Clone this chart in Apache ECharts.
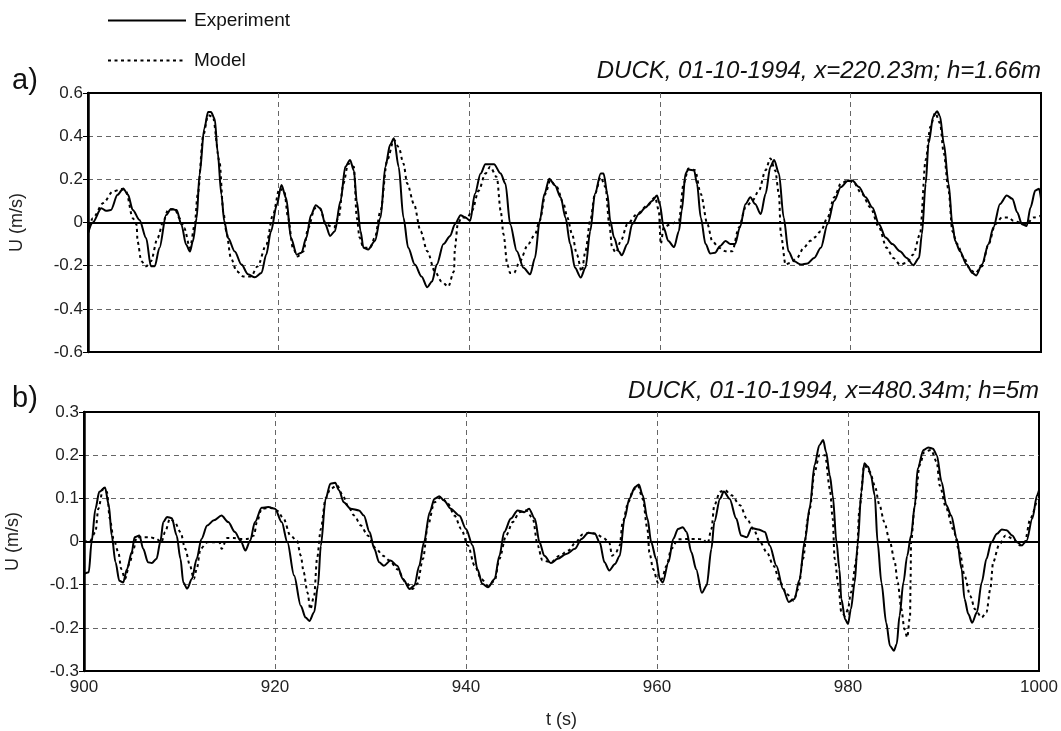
<!DOCTYPE html>
<html><head><meta charset="utf-8">
<script src="https://cdn.jsdelivr.net/npm/echarts@6/dist/echarts.min.js"></script>
<style>html,body{margin:0;padding:0;background:#fff}#c{width:1061px;height:731px}</style>
</head><body><div id="c"></div>
<script>
// ---------- DATA ----------
const seriesNames = ['Experiment', 'Model'];
const titleA = 'DUCK, 01-10-1994, x=220.23m; h=1.66m';
const titleB = 'DUCK, 01-10-1994, x=480.34m; h=5m';

// Panel a) Experiment
const aExpT = [900,900.5,901.4,901.9,902.4,903.1,903.7,904.2,904.7,905.4,906.1,906.6,907.0,907.5,908.2,908.7,909.3,909.8,910.3,910.7,911.0,911.4,911.7,912.2,912.6,912.9,913.3,913.6,914.0,914.3,914.7,915.4,916.1,916.8,917.5,918.2,918.7,919.2,919.8,920.3,920.8,921.3,921.9,922.4,922.9,923.4,923.9,924.4,924.9,925.4,925.9,926.5,927.0,927.5,927.9,928.2,928.6,928.9,929.4,930.1,930.7,931.2,931.7,932.1,932.6,933.1,933.6,934.3,935.0,935.6,936.1,936.6,937.3,938.0,938.5,939.1,939.6,940.1,940.6,941.2,941.7,942.6,943.3,943.8,944.3,945.0,945.7,946.4,946.9,947.4,947.9,948.4,949.0,949.6,950.1,950.6,951.1,951.7,952.2,952.7,953.2,953.8,954.1,954.5,954.8,955.2,955.7,956.0,956.6,957.1,957.8,958.5,959.2,959.7,960.0,960.4,960.9,961.5,962.0,962.3,962.7,963.0,963.6,963.9,964.3,964.8,965.3,965.8,966.3,966.9,967.4,967.9,968.4,969.0,969.5,970.0,970.6,971.1,971.6,972.0,972.5,973.0,973.5,974.1,974.8,975.5,976.2,976.9,977.6,978.3,979.0,979.7,980.2,980.9,981.6,982.3,983.0,983.7,984.4,985.2,985.9,986.6,987.2,987.5,987.9,988.2,988.7,989.1,989.4,989.8,990.3,990.7,991.0,991.5,992.2,992.8,993.2,993.8,994.5,995.0,995.7,996.4,997.0,997.5,998.0,998.5,998.9,999.4,999.8,1000];
const aExpU = [-0.05,0.0,0.066,0.054,0.058,0.128,0.158,0.128,0.058,0.012,-0.072,-0.203,-0.203,-0.118,0.035,0.063,0.058,-0.01,-0.103,-0.134,-0.088,0.02,0.22,0.435,0.512,0.512,0.48,0.328,0.128,0.005,-0.072,-0.134,-0.195,-0.24,-0.254,-0.234,-0.149,-0.042,0.08,0.174,0.112,-0.072,-0.149,-0.14,-0.072,0.035,0.08,0.065,-0.008,-0.062,-0.04,0.1,0.258,0.29,0.24,0.1,-0.04,-0.117,-0.125,-0.086,0.023,0.258,0.36,0.39,0.258,0.023,-0.117,-0.195,-0.25,-0.3,-0.273,-0.195,-0.1,-0.062,-0.008,0.034,0.023,0.008,0.133,0.227,0.27,0.27,0.227,0.18,-0.008,-0.133,-0.21,-0.24,-0.164,0.008,0.133,0.203,0.172,0.117,0.023,-0.1,-0.21,-0.255,-0.21,-0.04,0.133,0.227,0.227,0.133,0.008,-0.07,-0.133,-0.152,-0.1,-0.008,0.039,0.07,0.1,0.125,0.086,-0.023,-0.086,-0.114,-0.04,0.055,0.227,0.245,0.242,0.18,0.023,-0.1,-0.144,-0.14,-0.11,-0.086,-0.1,-0.1,-0.023,0.086,0.117,0.086,0.039,0.133,0.258,0.29,0.227,0.023,-0.133,-0.18,-0.195,-0.19,-0.164,-0.117,-0.008,0.1,0.164,0.192,0.195,0.164,0.117,0.07,-0.008,-0.07,-0.1,-0.133,-0.164,-0.198,-0.164,-0.055,0.18,0.367,0.492,0.516,0.492,0.367,0.18,-0.008,-0.086,-0.133,-0.195,-0.234,-0.245,-0.195,-0.1,-0.023,0.086,0.125,0.11,0.047,-0.008,-0.016,0.07,0.148,0.156,0.11];

// Panel a) Model
const aModT = [900,900.5,901.6,902.6,903.5,904.0,904.7,905.1,905.2,905.6,906.1,906.6,907.3,907.9,908.4,909.1,909.6,910.1,910.7,911.2,911.5,912.1,912.6,913.1,913.8,914.2,914.5,915.0,915.6,916.3,917.1,917.8,918.7,919.4,920.1,920.6,921.0,921.5,922.0,922.6,923.1,923.8,924.3,925.0,925.8,926.3,926.8,927.3,927.9,928.2,928.5,928.9,929.6,930.1,930.7,931.4,932.1,932.6,933.1,933.5,934.2,934.9,935.6,936.4,937.1,937.8,938.4,938.5,938.8,939.2,939.8,940.3,941.0,941.7,942.2,942.9,943.3,943.6,944.0,944.3,944.7,945.3,946.2,946.9,947.4,948.0,948.5,949.2,949.9,950.3,950.8,951.3,951.8,952.2,952.7,953.2,953.8,954.3,954.7,955.0,955.4,955.9,956.6,957.6,958.7,959.5,959.9,960.1,960.4,961.1,962.0,962.5,963.0,963.7,964.3,965.0,965.5,966.2,966.9,967.6,968.3,969.0,969.7,970.4,971.1,971.6,972.1,972.5,972.7,973.2,973.7,974.4,975.1,975.8,976.2,976.9,977.6,978.3,979.0,979.7,980.3,981.2,982.1,983.0,983.8,984.5,985.2,985.9,986.6,987.3,987.9,988.4,988.9,989.4,989.8,990.3,990.7,991.2,991.9,992.6,993.1,993.8,994.5,995.2,995.9,996.6,997.1,997.8,998.5,999.2,999.9];
const aModU = [-0.05,0.02,0.09,0.143,0.155,0.143,0.02,-0.01,-0.088,-0.18,-0.203,-0.18,-0.072,0.005,0.058,0.063,0.02,-0.026,-0.118,-0.01,0.128,0.405,0.497,0.49,0.282,0.05,-0.04,-0.165,-0.226,-0.25,-0.25,-0.203,-0.103,0.035,0.158,0.143,0.02,-0.118,-0.157,-0.134,-0.026,0.066,0.066,-0.01,-0.023,0.023,0.18,0.273,0.258,0.023,-0.07,-0.117,-0.117,-0.07,0.055,0.29,0.383,0.35,0.273,0.18,0.086,-0.04,-0.133,-0.227,-0.273,-0.297,-0.227,-0.117,-0.008,0.023,0.023,0.055,0.148,0.227,0.258,0.21,0.055,-0.055,-0.195,-0.234,-0.234,-0.18,-0.1,-0.055,0.008,0.133,0.195,0.164,0.086,0.023,-0.055,-0.148,-0.227,-0.133,0.008,0.133,0.21,0.164,-0.008,-0.117,-0.14,-0.086,-0.008,0.039,0.078,0.117,0.055,-0.1,-0.023,-0.008,0.008,0.18,0.25,0.242,0.133,-0.008,-0.086,-0.117,-0.133,-0.133,-0.023,0.07,0.1,0.148,0.242,0.297,0.242,0.133,-0.055,-0.195,-0.187,-0.164,-0.117,-0.085,-0.07,-0.04,0.023,0.117,0.18,0.195,0.187,0.133,0.07,-0.023,-0.117,-0.164,-0.195,-0.187,-0.148,-0.055,0.29,0.445,0.508,0.46,0.32,0.148,-0.04,-0.1,-0.164,-0.22,-0.234,-0.203,-0.1,-0.008,0.023,0.023,0.008,0.0,-0.008,0.023,0.03];

// Panel b) Experiment
const bExpT = [900,900.5,900.8,901.2,901.6,902.2,902.6,902.9,903.3,903.7,904.1,904.5,905.0,905.3,905.8,906.2,906.7,907.1,907.6,908.0,908.3,908.7,909.2,909.7,910.1,910.4,910.8,911.3,911.8,912.3,912.9,913.6,914.4,915.1,915.8,916.4,916.9,917.4,917.9,918.6,919.3,920.0,920.7,921.3,922.0,922.7,923.2,923.6,924.1,924.5,924.8,925.3,925.8,926.3,926.7,927.2,927.9,928.8,929.3,929.9,930.4,930.9,931.4,932.1,932.8,933.4,934.1,934.6,935.1,935.6,936.2,936.7,937.2,937.7,938.4,939.3,940.0,940.7,941.2,941.7,942.3,943.0,943.5,944.0,944.7,945.4,946.1,946.6,947.2,947.7,948.2,948.9,949.6,950.5,951.4,952.1,952.8,953.5,954.0,954.5,955.0,955.6,956.1,956.6,957.1,957.7,958.1,958.5,959.0,959.4,959.9,960.3,960.6,961.2,961.7,962.2,962.7,963.1,963.6,964.1,964.7,965.2,965.7,966.0,966.6,967.0,967.6,968.3,968.8,969.4,969.9,970.6,971.3,971.8,972.5,973.2,973.8,974.4,974.9,975.5,976.0,976.5,977.0,977.4,977.7,978.1,978.4,978.8,979.1,979.3,979.7,980.0,980.3,980.7,981.0,981.4,981.7,982.1,982.4,982.8,983.1,983.5,984.0,984.4,984.8,985.1,985.4,985.8,986.2,986.6,987.0,987.3,987.9,988.4,988.9,989.3,989.8,990.3,990.8,991.4,991.9,992.2,992.6,993.0,993.5,994.0,994.5,995.0,995.6,996.1,996.6,997.2,997.7,998.2,998.7,999.3,999.8,1000];
const bExpU = [-0.075,-0.071,0.0,0.076,0.115,0.125,0.084,0.014,-0.048,-0.091,-0.095,-0.064,-0.025,0.01,0.014,-0.017,-0.048,-0.05,-0.04,0.0,0.045,0.057,0.054,0.014,-0.04,-0.095,-0.109,-0.087,-0.04,0.006,0.037,0.049,0.06,0.045,0.022,0.002,-0.021,0.002,0.045,0.078,0.08,0.076,0.045,-0.002,-0.079,-0.149,-0.176,-0.184,-0.164,-0.102,-0.01,0.099,0.134,0.136,0.119,0.091,0.076,0.072,0.06,0.022,-0.017,-0.048,-0.056,-0.044,-0.056,-0.087,-0.11,-0.102,-0.056,-0.002,0.068,0.099,0.105,0.095,0.076,0.06,0.029,-0.009,-0.064,-0.098,-0.106,-0.087,-0.033,0.022,0.053,0.072,0.068,0.076,0.053,-0.002,-0.033,-0.05,-0.04,-0.029,-0.017,0.006,0.02,0.018,-0.002,-0.048,-0.067,-0.052,-0.033,0.053,0.099,0.126,0.132,0.107,0.053,-0.002,-0.04,-0.087,-0.095,-0.048,0.006,0.029,0.033,0.022,-0.025,-0.064,-0.119,-0.102,-0.017,0.045,0.099,0.116,0.099,0.053,0.014,0.01,0.031,0.028,0.022,-0.009,-0.056,-0.11,-0.14,-0.133,-0.09,0.004,0.08,0.177,0.223,0.235,0.208,0.153,0.107,-0.002,-0.064,-0.133,-0.18,-0.191,-0.157,-0.095,-0.009,0.115,0.181,0.173,0.153,0.107,-0.002,-0.095,-0.188,-0.242,-0.253,-0.238,-0.172,-0.095,-0.033,0.014,0.084,0.169,0.212,0.218,0.215,0.2,0.138,0.084,0.06,0.006,-0.064,-0.133,-0.168,-0.188,-0.164,-0.095,-0.04,-0.002,0.018,0.028,0.026,0.014,-0.002,-0.009,0.002,0.053,0.107,0.119];

// Panel b) Model
const bModT = [900,900.6,901.2,901.5,902.0,902.4,902.7,903.1,903.6,903.9,904.3,904.8,905.2,905.5,906.2,906.9,907.6,908.1,908.5,909.0,909.5,910.1,910.6,911.1,911.5,911.8,912.2,912.9,913.6,914.2,914.4,915.0,915.7,916.4,917.1,917.8,918.1,918.6,919.5,920.2,920.9,921.6,922.3,922.7,923.0,923.4,923.7,924.1,924.4,924.8,925.3,925.8,926.5,927.1,927.6,928.3,929.0,929.7,930.6,931.3,932.0,932.8,933.7,934.4,934.9,935.5,936.0,936.7,937.4,938.1,938.8,939.5,940.2,940.9,941.6,942.3,943.0,943.5,944.2,944.9,945.6,946.3,947.0,947.5,948.0,948.9,949.8,950.7,951.5,952.2,952.9,953.6,954.3,955.0,955.3,955.7,956.1,956.4,957.0,957.5,958.0,958.5,959.0,959.2,959.6,960.1,960.5,961.0,961.5,962.2,963.1,964.1,964.8,965.3,965.7,966.0,966.6,967.1,967.8,968.7,969.4,970.1,970.8,971.5,972.2,972.9,973.6,974.3,974.8,975.3,975.8,976.0,976.5,977.0,977.6,978.1,978.4,978.6,979.0,979.3,979.7,980.0,980.3,980.9,981.2,981.7,982.3,982.8,983.3,983.8,984.4,984.9,985.2,985.6,985.9,986.2,986.5,986.55,986.6,987.0,987.5,988.0,988.7,989.3,989.6,990.3,991.0,991.7,992.2,992.8,993.3,994.0,994.5,994.9,995.2,995.8,996.5,997.3,998.0,998.5,999.1,999.8];
const bModU = [0.0,0.0,0.022,0.076,0.122,0.115,0.053,0.006,-0.025,-0.064,-0.087,-0.048,-0.017,0.01,0.01,0.01,0.006,-0.002,0.022,0.053,0.045,0.022,-0.017,-0.056,-0.087,-0.064,-0.017,-0.002,-0.002,-0.002,-0.017,0.008,0.008,0.006,0.006,0.014,0.045,0.076,0.078,0.072,0.053,0.014,0.002,-0.033,-0.071,-0.118,-0.157,-0.126,-0.04,0.029,0.1,0.122,0.13,0.107,0.084,0.06,0.037,0.014,-0.017,-0.033,-0.044,-0.064,-0.095,-0.11,-0.098,-0.04,0.037,0.091,0.103,0.088,0.06,0.029,-0.009,-0.056,-0.087,-0.102,-0.091,-0.04,0.014,0.045,0.068,0.072,0.053,-0.009,-0.044,-0.048,-0.033,-0.021,-0.002,0.016,0.02,0.018,0.01,-0.002,-0.033,-0.025,-0.009,0.045,0.091,0.119,0.129,0.099,0.029,-0.025,-0.064,-0.095,-0.087,-0.056,-0.017,0.005,0.006,0.006,0.005,-0.005,0.029,0.084,0.115,0.119,0.107,0.084,0.053,0.029,-0.002,-0.025,-0.056,-0.095,-0.122,-0.137,-0.11,-0.04,0.053,0.076,0.161,0.2,0.2,0.122,0.053,-0.04,-0.102,-0.164,-0.172,-0.157,-0.118,-0.04,0.076,0.177,0.161,0.13,0.084,0.045,-0.002,-0.048,-0.095,-0.157,-0.203,-0.222,-0.172,-0.095,-0.002,0.084,0.177,0.208,0.212,0.184,0.13,0.076,0.029,-0.025,-0.079,-0.126,-0.157,-0.176,-0.164,-0.11,-0.048,-0.009,0.014,0.006,-0.009,-0.002,0.053,0.099];

// ---------- CHART ----------
const zip = (t, u) => t.map((v, i) => [v, u[i]]);
const FONT = '"Liberation Sans", Arial, sans-serif';
const chart = echarts.init(document.getElementById('c'), null, {renderer: 'canvas'});
const dash = {color: '#666', width: 1, type: [5, 4]};

function xAx(idx, showLabels) {
  return {
    type: 'value', gridIndex: idx, min: 900, max: 1000, interval: 20,
    axisLine: {show: true, lineStyle: {color: '#000', width: 2}},
    axisTick: {show: showLabels, length: 4, lineStyle: {color: '#000'}},
    axisLabel: {show: showLabels, fontSize: 17, color: '#222', fontFamily: FONT, margin: 8,
      formatter: v => String(v)},
    splitLine: {show: true, showMinLine: false, showMaxLine: false, lineStyle: dash},
    name: showLabels ? 't (s)' : '', nameLocation: 'middle', nameGap: 40,
    nameTextStyle: {fontSize: 18, color: '#222', fontFamily: FONT}
  };
}
function yAx(idx, lim, step) {
  return {
    type: 'value', gridIndex: idx, min: -lim, max: lim, interval: step,
    axisLine: {show: true, lineStyle: {color: '#000', width: 2.5}},
    axisTick: {show: true, length: 5, lineStyle: {color: '#000'}},
    axisLabel: {fontSize: 17, color: '#222', fontFamily: FONT, margin: 5},
    splitLine: {show: true, showMinLine: false, showMaxLine: false, lineStyle: dash},
    name: 'U (m/s)', nameLocation: 'middle', nameGap: 62, nameRotate: 90,
    nameTextStyle: {fontSize: 18, color: '#222', fontFamily: FONT}
  };
}
const zeroLine = {
  silent: true, symbol: 'none', label: {show: false},
  lineStyle: {color: '#000', width: 2, type: 'solid'},
  data: [{yAxis: 0}]
};
function expSeries(idx, data) {
  return {
    name: seriesNames[0], type: 'line', xAxisIndex: idx, yAxisIndex: idx,
    data: data, showSymbol: false, symbol: 'none', smooth: 0.3, smoothMonotone: 'x',
    lineStyle: {color: '#000', width: 2}, itemStyle: {color: '#000'},
    markLine: zeroLine, z: 3
  };
}
function modSeries(idx, data) {
  return {
    name: seriesNames[1], type: 'line', xAxisIndex: idx, yAxisIndex: idx,
    data: data, showSymbol: false, symbol: 'none', smooth: 0.3, smoothMonotone: 'x',
    lineStyle: {color: '#000', width: 2, type: [3, 3.5]}, itemStyle: {color: '#000'}, z: 4
  };
}

chart.setOption({
  backgroundColor: '#fff',
  animation: false,
  textStyle: {fontFamily: FONT},
  title: [
    {text: 'a)', left: 7, top: 61, textStyle: {fontSize: 29, fontWeight: 'normal', color: '#111', fontFamily: FONT}},
    {text: 'b)', left: 7, top: 379, textStyle: {fontSize: 29, fontWeight: 'normal', color: '#111', fontFamily: FONT}},
    {text: titleA, right: 15, top: 54, textStyle: {fontSize: 24, fontStyle: 'italic', fontWeight: 'normal', color: '#111', fontFamily: FONT}},
    {text: titleB, right: 17, top: 374, textStyle: {fontSize: 24, fontStyle: 'italic', fontWeight: 'normal', color: '#111', fontFamily: FONT}}
  ],
  legend: {
    orient: 'vertical', left: 107, top: 11, padding: 0, itemWidth: 78, itemHeight: 20, itemGap: 21,
    data: seriesNames, itemStyle: {opacity: 0},
    textStyle: {fontSize: 19, color: '#111', fontFamily: FONT, padding: [0, 0, 0, 3]}
  },
  grid: [
    {left: 88, top: 93, width: 953, height: 259, show: true, borderColor: '#000', borderWidth: 2, outerBoundsMode: 'none', containLabel: false},
    {left: 84, top: 412, width: 955, height: 259, show: true, borderColor: '#000', borderWidth: 2, outerBoundsMode: 'none', containLabel: false}
  ],
  xAxis: [xAx(0, false), xAx(1, true)],
  yAxis: [yAx(0, 0.6, 0.2), yAx(1, 0.3, 0.1)],
  series: [
    expSeries(0, zip(aExpT, aExpU)),
    modSeries(0, zip(aModT, aModU)),
    expSeries(1, zip(bExpT, bExpU)),
    modSeries(1, zip(bModT, bModU))
  ]
});
</script></body></html>
